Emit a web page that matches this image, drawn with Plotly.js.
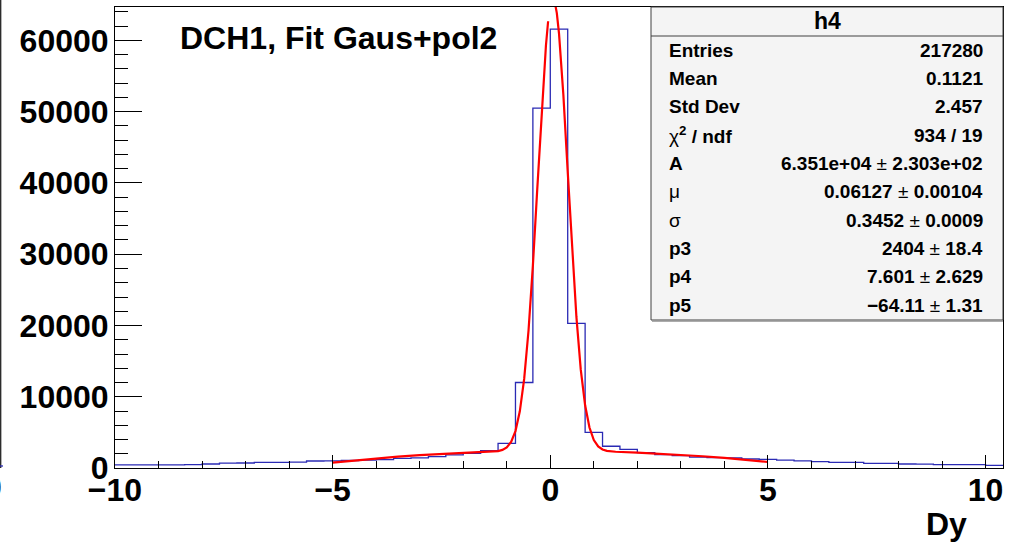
<!DOCTYPE html>
<html>
<head>
<meta charset="utf-8">
<script src="https://cdn.plot.ly/plotly-3.0.1.min.js"></script>
<style>html,body{margin:0;padding:0;background:#fff;}#chart{width:1020px;height:543px;}</style>
</head>
<body>
<div id="chart"></div>
<script>
// ---------------- data ----------------
const binLow = -10;
const binWidth = 0.4;
// counts per bin, bins from -10 to 10.4 (width 0.4)
const counts = [
  440, 440, 450, 450, 460, 560, 690, 700, 790, 800,
  820, 980, 1000, 1050, 1100, 1180, 1350, 1420, 1600, 1830,
  2050, 2420, 3450, 12000, 50500, 61600, 20300, 5000, 3050, 2620,
  2150, 1880, 1740, 1520, 1460, 1400, 1260, 1200, 1100, 1000,
  900, 800, 790, 660, 650, 560, 550, 480, 470, 460,
  380
];
// fitted curve (Gaus + pol2)
const fitX = [-5, -4.5, -4, -3.5, -3, -2.5, -2, -1.5, -1.4, -1.3, -1.2, -1.1, -1.0, -0.9, -0.8, -0.7, -0.6, -0.5, -0.4, -0.3, -0.2, -0.1, -0.05,
              null,
              0.1, 0.15, 0.2, 0.3, 0.4, 0.5, 0.6, 0.7, 0.8, 0.9, 1.0, 1.1, 1.2, 1.3, 1.4, 1.5, 2, 2.5, 3, 3.5, 4, 4.5, 5];
const fitY = [760, 1070, 1350, 1590, 1800, 1980, 2130, 2250, 2280, 2310, 2380, 2540, 2900, 3660, 5180, 7950, 12500, 19300, 28400, 39100, 50100, 59300, 62700,
              null,
              65500, 63850, 61000, 52400, 41600, 30700, 21200, 13800, 8800, 5680, 3920, 3020, 2600, 2410, 2320, 2280, 2160, 2020, 1850, 1650, 1410, 1140, 840];
const xTicks = [-10, -5, 0, 5, 10];
const yTicks = [0, 10000, 20000, 30000, 40000, 50000, 60000];
const plotTitle = "DCH1, Fit Gaus+pol2";
const xTitle = "Dy";
const statsTitle = "h4";
const statLabels = ["<b>Entries</b>", "<b>Mean</b>", "<b>Std Dev</b>", "χ<b><sup>2</sup> / ndf</b>", "<b>A</b>", "μ", "σ", "<b>p3</b>", "<b>p4</b>", "<b>p5</b>"];
const statValues = ["<b>217280</b>", "<b>0.1121</b>", "<b>2.457</b>", "<b>934 / 19</b>",
  "<b>6.351e+04</b> ± <b>2.303e+02</b>", "<b>0.06127</b> ± <b>0.00104</b>", "<b>0.3452</b> ± <b>0.0009</b>",
  "<b>2404</b> ± <b>18.4</b>", "<b>7.601</b> ± <b>2.629</b>", "<b>−64.11</b> ± <b>1.31</b>"];

// ---------------- layout geometry ----------------
const W = 1020, H = 543;
const L = 115, R = 1003, T = 7, B = 468;
const px = v => (v - L) / (R - L);
const py = v => (B - v) / (B - T);
const FONT = "Liberation Sans, Arial, Helvetica, sans-serif";

// histogram as step line
const edges = [];
for (let i = 0; i <= counts.length; i++) edges.push(+(binLow + i * binWidth).toFixed(4));
const histX = edges.slice();
const histY = counts.concat([counts[counts.length - 1]]);

const traces = [
  {x: histX, y: histY, type: 'scatter', mode: 'lines', line: {shape: 'hv', color: '#2a2ab4', width: 1.3}, hoverinfo: 'skip'},
  {x: fitX, y: fitY, type: 'scatter', mode: 'lines', line: {color: '#ff0000', width: 2.2}, connectgaps: false, hoverinfo: 'skip'}
];

const annotations = [];
// stats box
const boxL = 651, boxR = 1003, boxT = 7, boxB = 320, sepY = 36;
annotations.push({xref: 'paper', yref: 'paper', x: px(827), y: py(21), xanchor: 'center', yanchor: 'middle', showarrow: false,
  text: '<b>' + statsTitle + '</b>', font: {family: FONT, size: 23, color: '#000'}});
const row0 = 50.3, rowStep = 28.3;
for (let i = 0; i < statLabels.length; i++) {
  const yy = row0 + i * rowStep;
  annotations.push({xref: 'paper', yref: 'paper', x: px(667), y: py(yy), xanchor: 'left', yanchor: 'middle', showarrow: false,
    text: statLabels[i], font: {family: FONT, size: 19, color: '#000'}});
  annotations.push({xref: 'paper', yref: 'paper', x: px(985), y: py(yy), xanchor: 'right', yanchor: 'middle', showarrow: false,
    text: statValues[i], font: {family: FONT, size: 19, color: '#000'}});
}
// x axis title
annotations.push({xref: 'paper', yref: 'paper', x: px(969), y: py(524), xanchor: 'right', yanchor: 'middle', showarrow: false,
  text: '<b>' + xTitle + '</b>', font: {family: FONT, size: 32, color: '#000'}});
// cut-off label of the neighbouring pad at the far left
annotations.push({xref: 'paper', yref: 'paper', x: px(3.5), y: py(487), xanchor: 'right', yanchor: 'middle', showarrow: false,
  text: '<b>0</b>', font: {family: FONT, size: 32, color: '#000'}});

const shapes = [
  {type: 'rect', xref: 'paper', yref: 'paper', x0: px(boxL), x1: px(boxR), y0: py(boxB), y1: py(boxT),
   fillcolor: '#f4f4f4', line: {color: '#404040', width: 1}, layer: 'above'},
  {type: 'line', xref: 'paper', yref: 'paper', x0: px(boxL), x1: px(boxR), y0: py(sepY), y1: py(sepY), line: {color: '#404040', width: 1}},
  {type: 'line', xref: 'paper', yref: 'paper', x0: px(boxL + 1), x1: px(boxR), y0: py(boxB + 1), y1: py(boxB + 1), line: {color: '#909090', width: 1.5}},
  // neighbouring pad edge at the far left
  {type: 'line', xref: 'paper', yref: 'paper', x0: px(0.7), x1: px(0.7), y0: py(0), y1: py(468), line: {color: '#222', width: 1.3}},
  {type: 'line', xref: 'paper', yref: 'paper', x0: px(0), x1: px(3), y0: py(466), y1: py(466), line: {color: '#2a2ab4', width: 1.3}}
];

const layout = {
  width: W, height: H,
  margin: {l: L, r: W - R, t: T, b: H - B, pad: 0},
  paper_bgcolor: '#fff', plot_bgcolor: '#fff',
  showlegend: false,
  title: {text: '<b>' + plotTitle + '</b>', x: 180 / W, xanchor: 'left', xref: 'container', y: 1 - 38 / H, yanchor: 'middle', yref: 'container',
          font: {family: FONT, size: 32, color: '#000'}},
  xaxis: {range: [-10, 10.4], tickmode: 'array', tickvals: xTicks, ticktext: xTicks.map(v => v < 0 ? '−' + Math.abs(v) : String(v)),
          ticks: 'inside', ticklen: 13, tickwidth: 1, tickcolor: '#000',
          minor: {ticks: 'inside', ticklen: 7, tickwidth: 1, tickcolor: '#000', dtick: 1, tick0: -10},
          showline: true, linecolor: '#000', linewidth: 1, mirror: true, showgrid: false, zeroline: false,
          tickfont: {family: FONT, size: 32, color: '#000', weight: 'bold'}, ticklabelstandoff: -6, fixedrange: true},
  yaxis: {range: [0, 64700], tickmode: 'array', tickvals: yTicks, ticktext: yTicks.map(v => String(v)),
          ticks: 'inside', ticklen: 27, tickwidth: 1, tickcolor: '#000',
          minor: {ticks: 'inside', ticklen: 13, tickwidth: 1, tickcolor: '#000', dtick: 2000, tick0: 0},
          showline: true, linecolor: '#000', linewidth: 1, mirror: true, showgrid: false, zeroline: false,
          tickfont: {family: FONT, size: 32, color: '#000', weight: 'bold'}, ticklabelstandoff: -1, fixedrange: true},
  annotations: annotations,
  shapes: shapes
};

Plotly.newPlot('chart', traces, layout, {displayModeBar: false, staticPlot: true});
</script>
</body>
</html>
